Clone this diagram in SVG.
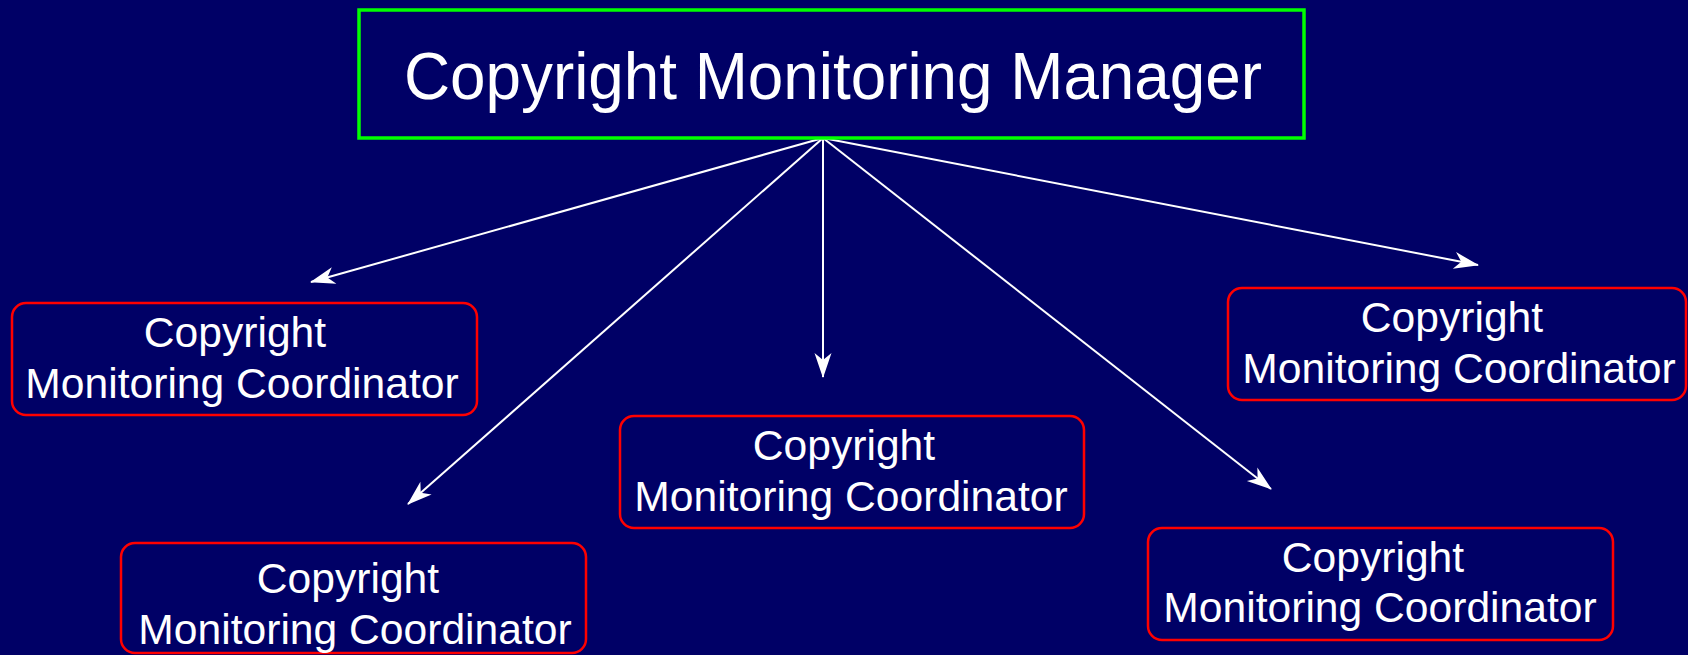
<svg xmlns="http://www.w3.org/2000/svg" width="1688" height="655" viewBox="0 0 1688 655">
<style>
.bg{fill:#000066}
.mgr{fill:#000066;stroke:#00ff00;stroke-width:3.5}
.crd{fill:#000066;stroke:#ff0000;stroke-width:2.5}
.t{font-family:"Liberation Sans",Arial,Helvetica,sans-serif;fill:#ffffff;text-anchor:middle}
.tm{font-size:66px}
.tc{font-size:42.6px}
.edge{stroke:#ffffff;stroke-width:2;fill:none;marker-end:url(#ah)}
</style>
<defs>
<marker id="ah" markerUnits="userSpaceOnUse" viewBox="-26 -10 28 20" refX="0" refY="0" markerWidth="28" markerHeight="20" orient="auto">
<path d="M1,0 L-24,-8.5 L-17,0 L-24,8.5 Z" fill="#ffffff"/>
</marker>
</defs>
<rect class="bg" x="0" y="0" width="1688" height="655"/>
<g id="connectors">
<line class="edge" x1="823" y1="138" x2="311" y2="282"/>
<line class="edge" x1="823" y1="138" x2="408" y2="504"/>
<line class="edge" x1="823" y1="138" x2="823" y2="377"/>
<line class="edge" x1="823" y1="138" x2="1271" y2="489"/>
<line class="edge" x1="823" y1="138" x2="1478" y2="265"/>
</g>
<g id="manager">
<rect class="mgr" x="359" y="10" width="945" height="128"/>
<text class="t tm" x="833" y="99" textLength="858" lengthAdjust="spacingAndGlyphs">Copyright Monitoring Manager</text>
</g>
<g id="coord1">
<rect class="crd" x="12" y="303" width="465" height="112" rx="14"/>
<text class="t tc" x="235" y="347">Copyright</text>
<text class="t tc" x="242" y="398">Monitoring Coordinator</text>
</g>
<g id="coord2">
<rect class="crd" x="620" y="416" width="464" height="112" rx="14"/>
<text class="t tc" x="844" y="460">Copyright</text>
<text class="t tc" x="851" y="511">Monitoring Coordinator</text>
</g>
<g id="coord3">
<rect class="crd" x="1228" y="288" width="458" height="112" rx="14"/>
<text class="t tc" x="1452" y="332">Copyright</text>
<text class="t tc" x="1459" y="383">Monitoring Coordinator</text>
</g>
<g id="coord4">
<rect class="crd" x="121" y="543" width="465" height="110" rx="14"/>
<text class="t tc" x="348" y="593">Copyright</text>
<text class="t tc" x="355" y="644">Monitoring Coordinator</text>
</g>
<g id="coord5">
<rect class="crd" x="1148" y="528" width="465" height="112" rx="14"/>
<text class="t tc" x="1373" y="572">Copyright</text>
<text class="t tc" x="1380" y="622">Monitoring Coordinator</text>
</g>
</svg>
